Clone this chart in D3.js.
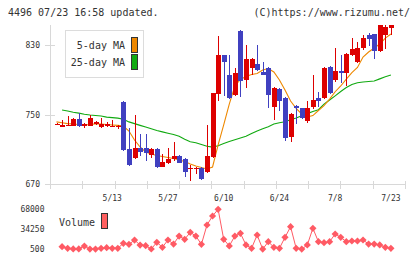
<!DOCTYPE html>
<html>
<head>
<meta charset="utf-8">
<script src="https://cdn.jsdelivr.net/npm/d3@7"></script>
<style>
  html, body { margin: 0; padding: 0; background: #fff; }
  svg { display: block; }
  text { font-family: "DejaVu Sans Mono", "Liberation Mono", monospace; fill: #333; }
</style>
</head>
<body>
<div id="chart"></div>
<script>
const WIDTH = 420;
const HEIGHT = 259;

const UP = '#dd0000';
const DOWN = '#4040c0';
const MA5_COLOUR = '#ee8800';
const MA25_COLOUR = '#11aa11';
const VOL_COLOUR = '#ff5a64';
const AXIS = '#d8d8d8';

// trading days, 2024
const dates = [
  '4/24', '4/25', '4/26', '4/30', '5/1', '5/2', '5/7', '5/8', '5/9', '5/10',
  '5/13', '5/14', '5/15', '5/16', '5/17', '5/20', '5/21', '5/22', '5/23', '5/24',
  '5/27', '5/28', '5/29', '5/30', '5/31', '6/3', '6/4', '6/5', '6/6', '6/7',
  '6/10', '6/11', '6/12', '6/13', '6/14', '6/17', '6/18', '6/19', '6/20', '6/21',
  '6/24', '6/25', '6/26', '6/27', '6/28', '7/1', '7/2', '7/3', '7/4', '7/5',
  '7/8', '7/9', '7/10', '7/11', '7/12', '7/16', '7/17', '7/18', '7/19', '7/22',
  '7/23'
];

const opens = [
  739, 736, 737, 737, 745, 737, 737, 739, 735.5, 736.5,
  736, 735.5, 764, 710, 700, 712, 711, 703, 710, 690,
  694, 699, 702, 699, 687, 687, 688.5, 684, 701, 774,
  818, 795, 772, 846, 790, 804, 808, 799, 804, 759,
  779, 769, 724, 760, 757, 742, 759, 768.5, 769, 805,
  790, 800, 798, 818, 811, 826.5, 841, 842.6, 823, 841,
  849.5
];
const highs = [
  740, 744, 748, 745.5, 752, 740, 749, 742, 746, 741,
  744, 738, 766, 735, 749, 727, 728, 711, 711, 705,
  711, 718, 703, 700, 692, 689, 689, 738, 775, 840,
  818.5, 818, 804, 847, 830, 815, 830, 811, 805, 782,
  780, 770, 752, 761, 758, 765, 795, 776, 805, 806,
  826.5, 819, 821, 838, 833, 841, 844, 843, 853, 853,
  853
];
const lows = [
  739, 735.5, 736.5, 736.5, 736, 735, 736.5, 738, 735, 736,
  735.5, 733, 708, 691, 699, 702, 697, 700, 688, 689,
  693, 697, 694, 678, 673.5, 681, 675, 683, 700, 765,
  771.5, 768, 771, 770, 780, 795, 800, 795, 757, 744,
  754, 720, 718, 739, 745, 740, 756, 759, 768, 773.5,
  787, 786, 783, 817, 809.5, 824, 829, 814, 822, 825,
  842
];
const closes = [
  739.5, 738, 738, 745, 737, 739, 746, 741, 738.7, 738.7,
  737, 737, 709, 692, 712, 707, 706, 710, 689, 695,
  699, 702, 694.5, 684, 688, 688, 676, 702, 775, 818,
  810, 769, 798, 789, 814, 814, 801.5, 795, 772, 781,
  765, 723, 751, 757, 746, 757, 767, 765.5, 803, 775,
  800, 798, 820, 825, 826.5, 838, 837, 823.4, 853, 850.7,
  853
];

const ma5 = [
  741.5, 740.5, 739.5, 739, 738.5, 738, 738.5, 739.2, 739, 738.5,
  738, 737.5, 736.7, 731, 720.6, 712.6, 706.8, 704.5, 702.8, 701.6,
  700.5, 699.3, 697.6, 695.9, 693, 690.7, 689, 687.3, 689.6, 715,
  738, 762, 782.8, 790.3, 793.7, 796, 797.2, 801.2, 802.9, 798.9,
  789.7, 778.2, 765.5, 757.1, 750.6, 747.1, 748.8, 754.6, 760.3, 767.8,
  776.2, 782.8, 790.8, 798.3, 804.1, 816.1, 821.9, 826.5, 831.1, 838,
  842.6
];
const ma25 = [
  null, 755.2, 754, 752.5, 751.6, 750.3, 749.4, 748.8, 748.2, 747,
  746.4, 745.8, 744.5, 741.5, 739.5, 737.5, 735.5, 733.5, 731.5, 730,
  728.5, 727, 725, 721.5, 718.7, 717.5, 715.5, 713.5, 712.5, 714,
  716.5, 719, 721, 723, 725, 728, 731, 733.5, 736, 739,
  740.5, 741.7, 744, 746, 748.5, 751, 753.5, 755.5, 762, 766.7,
  771.5, 776.5, 781, 784.5, 786.5, 787.5, 788, 788.5, 791, 793.5,
  795.4
];

const volumes = [
  null, 4400, 1700, 700, 700, 5500, 300, 300, 1700, 2700,
  1700, 1700, 10100, 8400, 15600, 7200, 6100, 500, 11800, 3400,
  15700, 8900, 22400, 16900, 28700, 22400, 8400, 41000, 56200, 67500,
  16900, 5600, 22400, 27000, 7300, 1700, 24100, 300, 12800, 3400,
  1700, 20200, 38100, 1700, 300, 7300, 35400, 12800, 11100, 12800,
  25800, 20200, 12800, 14000, 14000, 15700, 8900, 8900, 7300, 3400,
  1700
];

const priceTicks = [670, 750, 830];
const volumeTicks = [500, 34250, 68000];
const dateLabels = ['5/13', '5/27', '6/10', '6/24', '7/8', '7/23'];

function translate(x, y) {
  return `translate(${x}, ${y})`;
}

const svg = d3.select('#chart').append('svg')
  .attr('width', WIDTH)
  .attr('height', HEIGHT)
  .attr('viewBox', `0 0 ${WIDTH} ${HEIGHT}`);

// Header
svg.append('text')
  .attr('x', 8)
  .attr('y', 16)
  .attr('font-size', 10)
  .text('4496 07/23 16:58 updated.');

svg.append('text')
  .attr('x', 410)
  .attr('y', 16)
  .attr('font-size', 10)
  .attr('text-anchor', 'end')
  .text('(C)https://www.rizumu.net/');

// Scales
const x = d3.scalePoint()
  .domain(dates)
  .range([56.5, 390.9]);

const y = d3.scaleLinear()
  .domain([670, 830])
  .range([184, 45]);

const yVol = d3.scaleLinear()
  .domain([500, 68000])
  .range([249, 209]);

// fixed grid divisions along the bottom axis
const grid = d3.scaleLinear()
  .domain([0, 11])
  .range([50.5, 405.5]);

// Axes
const axes = svg.append('g')
  .attr('stroke', AXIS)
  .attr('shape-rendering', 'crispEdges');

axes.append('line')
  .attr('x1', 50.5).attr('x2', 50.5)
  .attr('y1', 25).attr('y2', 189);

axes.append('line')
  .attr('x1', 50).attr('x2', grid(11))
  .attr('y1', 184.5).attr('y2', 184.5);

axes.selectAll('.xtick')
  .data(d3.range(12))
  .enter().append('line')
  .attr('x1', d => grid(d)).attr('x2', d => grid(d))
  .attr('y1', 181).attr('y2', 189);

axes.selectAll('.ytick')
  .data(priceTicks)
  .enter().append('line')
  .attr('x1', 45).attr('x2', 55)
  .attr('y1', d => Math.round(y(d)) + 0.5)
  .attr('y2', d => Math.round(y(d)) + 0.5);

svg.selectAll('.ylabel')
  .data(priceTicks)
  .enter().append('text')
  .attr('x', 40)
  .attr('y', d => y(d) + 3)
  .attr('font-size', 8)
  .attr('text-anchor', 'end')
  .text(d => d);

svg.selectAll('.xlabel')
  .data(dateLabels)
  .enter().append('text')
  .attr('x', d => x(d))
  .attr('y', 201)
  .attr('font-size', 8)
  .attr('text-anchor', 'middle')
  .text(d => d);

// Moving averages
const maLine = values => d3.line()
  .defined((d, i) => values[i] != null)
  .x((d, i) => x(dates[i]))
  .y((d, i) => y(values[i]));

svg.append('path')
  .datum(ma25)
  .attr('fill', 'none')
  .attr('stroke', MA25_COLOUR)
  .attr('stroke-width', 1.1)
  .attr('d', maLine(ma25));

svg.append('path')
  .datum(ma5)
  .attr('fill', 'none')
  .attr('stroke', MA5_COLOUR)
  .attr('stroke-width', 1.1)
  .attr('d', maLine(ma5));

// Candles
const candles = svg.append('g')
  .attr('shape-rendering', 'crispEdges')
  .selectAll('g')
  .data(dates)
  .enter().append('g')
  .attr('transform', d => translate(Math.round(x(d)), 0));

const colourOf = i => closes[i] >= opens[i] ? UP : DOWN;

candles.append('line')
  .attr('x1', 0.5).attr('x2', 0.5)
  .attr('y1', (d, i) => y(highs[i]))
  .attr('y2', (d, i) => y(lows[i]))
  .attr('stroke', (d, i) => colourOf(i));

candles.append('rect')
  .attr('x', -2)
  .attr('width', 5)
  .attr('y', (d, i) => y(Math.max(opens[i], closes[i])))
  .attr('height', (d, i) => Math.max(1, Math.abs(y(opens[i]) - y(closes[i]))))
  .attr('fill', (d, i) => colourOf(i));

// Legend
const legend = svg.append('g').attr('shape-rendering', 'crispEdges');

legend.append('rect')
  .attr('x', 65.5).attr('y', 30.5)
  .attr('width', 78).attr('height', 47)
  .attr('fill', '#fff')
  .attr('stroke', '#dcdcdc');

[['5-day MA', MA5_COLOUR, 37.5], ['25-day MA', MA25_COLOUR, 54.5]].forEach(([label, colour, top]) => {
  legend.append('text')
    .attr('x', 125)
    .attr('y', top + 11)
    .attr('font-size', 10)
    .attr('text-anchor', 'end')
    .text(label);
  legend.append('rect')
    .attr('x', 131.5).attr('y', top)
    .attr('width', 6).attr('height', 15)
    .attr('fill', colour)
    .attr('stroke', '#333');
});

// Volume
svg.selectAll('.vlabel')
  .data(volumeTicks)
  .enter().append('text')
  .attr('x', 44.5)
  .attr('y', d => yVol(d) + 3)
  .attr('font-size', 8)
  .attr('text-anchor', 'end')
  .text(d => d);

svg.append('text')
  .attr('x', 59)
  .attr('y', 226)
  .attr('font-size', 10)
  .text('Volume');

svg.append('rect')
  .attr('x', 101.5).attr('y', 213.5)
  .attr('width', 6).attr('height', 15)
  .attr('fill', '#ff6060')
  .attr('stroke', '#333')
  .attr('shape-rendering', 'crispEdges');

svg.append('path')
  .attr('fill', 'none')
  .attr('stroke', VOL_COLOUR)
  .attr('stroke-width', 1)
  .attr('d', d3.line()
    .defined((d, i) => volumes[i] != null)
    .x((d, i) => x(dates[i]))
    .y((d, i) => yVol(volumes[i]))(volumes));

const diamond = d3.symbol().type(d3.symbolSquare).size(26);

svg.selectAll('.vdot')
  .data(dates.filter((d, i) => volumes[i] != null))
  .enter().append('path')
  .attr('d', diamond)
  .attr('fill', VOL_COLOUR)
  .attr('transform', d => `${translate(x(d), yVol(volumes[dates.indexOf(d)]))} rotate(45)`);
</script>
</body>
</html>
